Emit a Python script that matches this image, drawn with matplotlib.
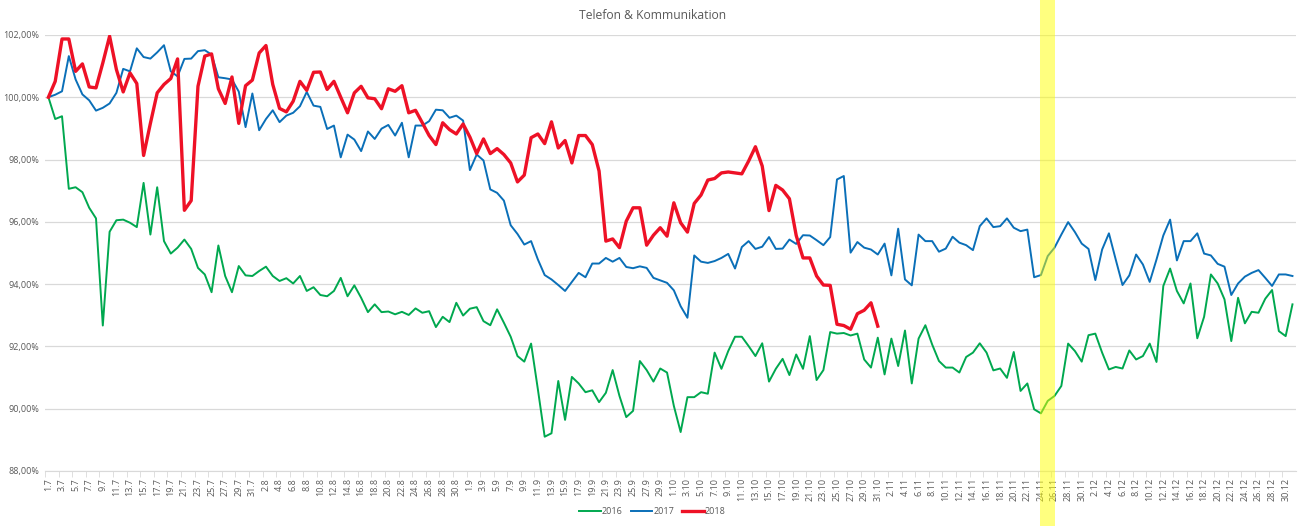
import pandas as pd
from matplotlib import pyplot as plt

# Kategorien: 1.7 bis 31.12
dates = pd.date_range('2018-07-01', '2018-12-31', freq='D')
labels = [f'{d.day}.{d.month}' for d in dates]

v2016 = [100.00, 99.30, 99.39, 97.06, 97.11, 96.95, 96.45, 96.11, 92.67, 95.68,
         96.05, 96.07, 95.97, 95.83, 97.25, 95.59, 97.11, 95.38, 94.98, 95.17,
         95.43, 95.13, 94.52, 94.31, 93.74, 95.24, 94.26, 93.74, 94.58, 94.28,
         94.26, 94.42, 94.56, 94.26, 94.10, 94.19, 94.02, 94.26, 93.78, 93.90,
         93.65, 93.61, 93.78, 94.20, 93.61, 93.96, 93.56, 93.10, 93.35, 93.10,
         93.12, 93.03, 93.11, 93.01, 93.22, 93.08, 93.13, 92.62, 92.95, 92.78,
         93.40, 92.99, 93.21, 93.26, 92.81, 92.68, 93.19, 92.76, 92.31, 91.69,
         91.51, 92.09, 90.62, 89.10, 89.21, 90.89, 89.64, 91.02, 90.81, 90.53,
         90.59, 90.21, 90.51, 91.24, 90.41, 89.73, 89.93, 91.53, 91.24, 90.87,
         91.29, 91.16, 90.09, 89.25, 90.37, 90.37, 90.53, 90.48, 91.80, 91.28,
         91.85, 92.31, 92.31, 92.01, 91.69, 92.10, 90.87, 91.28, 91.60, 91.08,
         91.74, 91.28, 92.33, 90.92, 91.24, 92.46, 92.41, 92.43, 92.35, 92.41,
         91.58, 91.32, 92.28, 91.10, 92.25, 91.37, 92.51, 90.81, 92.25, 92.68,
         92.06, 91.53, 91.32, 91.32, 91.16, 91.66, 91.80, 92.10, 91.80, 91.23,
         91.29, 90.99, 91.82, 90.57, 90.81, 89.98, 89.85, 90.25, 90.41, 90.73,
         92.09, 91.85, 91.51, 92.36, 92.41, 91.80, 91.26, 91.34, 91.29, 91.87,
         91.58, 91.69, 92.09, 91.50, 93.94, 94.50, 93.78, 93.38, 94.02, 92.26,
         92.95, 94.31, 94.02, 93.51, 92.17, 93.56, 92.74, 93.11, 93.08, 93.53,
         93.81, 92.49, 92.33, 93.35]

v2017 = [100.00, 100.08, 100.19, 101.32, 100.57, 100.09, 99.90, 99.57, 99.66, 99.80,
         100.14, 100.91, 100.83, 101.57, 101.29, 101.24, 101.44, 101.67, 100.83, 100.67,
         101.23, 101.24, 101.48, 101.51, 101.37, 100.64, 100.61, 100.57, 100.18, 99.04,
         100.12, 98.94, 99.30, 99.58, 99.20, 99.41, 99.50, 99.71, 100.17, 99.73,
         99.69, 98.98, 99.09, 98.07, 98.80, 98.64, 98.27, 98.90, 98.66, 98.99,
         99.11, 98.77, 99.18, 98.07, 99.09, 99.09, 99.23, 99.60, 99.58, 99.34,
         99.41, 99.25, 97.66, 98.16, 97.97, 97.04, 96.93, 96.68, 95.89, 95.61,
         95.27, 95.38, 94.79, 94.29, 94.15, 93.97, 93.78, 94.07, 94.36, 94.22,
         94.66, 94.66, 94.84, 94.72, 94.84, 94.55, 94.51, 94.57, 94.52, 94.20,
         94.12, 94.04, 93.80, 93.29, 92.92, 94.92, 94.72, 94.68, 94.74, 94.84,
         94.97, 94.50, 95.19, 95.38, 95.13, 95.20, 95.51, 95.13, 95.14, 95.43,
         95.29, 95.57, 95.56, 95.41, 95.25, 95.51, 97.36, 97.47, 95.01, 95.35,
         95.17, 95.11, 94.95, 95.30, 94.28, 95.78, 94.15, 93.96, 95.59, 95.38,
         95.38, 95.04, 95.14, 95.52, 95.33, 95.25, 95.09, 95.86, 96.11, 95.83,
         95.86, 96.11, 95.81, 95.70, 95.75, 94.22, 94.29, 94.90, 95.17, 95.59,
         95.99, 95.67, 95.30, 95.13, 94.13, 95.11, 95.63, 94.79, 93.97, 94.28,
         94.95, 94.63, 94.07, 94.79, 95.56, 96.07, 94.76, 95.38, 95.38, 95.63,
         94.98, 94.92, 94.65, 94.56, 93.65, 94.02, 94.24, 94.36, 94.45, 94.20,
         93.94, 94.31, 94.31, 94.26]

v2018 = [100.00, 100.51, 101.87, 101.87, 100.83, 101.07, 100.33, 100.30, 101.10, 101.96,
         100.89, 100.17, 100.78, 100.44, 98.13, 99.16, 100.14, 100.41, 100.60, 101.23,
         96.37, 96.68, 100.35, 101.32, 101.39, 100.27, 99.80, 100.65, 99.16, 100.37,
         100.55, 101.42, 101.66, 100.41, 99.64, 99.53, 99.87, 100.51, 100.22, 100.80,
         100.81, 100.25, 100.51, 100.00, 99.50, 100.14, 100.35, 99.98, 99.95, 99.63,
         100.27, 100.19, 100.37, 99.50, 99.58, 99.18, 98.77, 98.48, 99.18, 98.96,
         98.82, 99.14, 98.72, 98.19, 98.66, 98.19, 98.35, 98.16, 97.89, 97.28,
         97.50, 98.70, 98.82, 98.51, 99.21, 98.37, 98.61, 97.89, 98.77, 98.77,
         98.48, 97.63, 95.38, 95.45, 95.17, 96.02, 96.45, 96.45, 95.25, 95.57,
         95.81, 95.54, 96.61, 95.97, 95.67, 96.59, 96.86, 97.34, 97.39, 97.57,
         97.60, 97.57, 97.54, 97.95, 98.41, 97.79, 96.36, 97.17, 97.02, 96.74,
         95.56, 94.84, 94.84, 94.26, 93.97, 93.96, 92.71, 92.67, 92.55, 93.05,
         93.16, 93.40, 92.65]

highlight = ('24.11', '26.11')

fig = plt.figure(figsize=(13.05, 5.26), dpi=100)
ax = fig.add_axes([0.0345, 0.1046, 0.9585, 0.829])

x = list(range(len(labels)))
ax.plot(x, v2016, color='#00A84F', lw=1.4, label='2016', zorder=3)
ax.plot(x, v2017, color='#0A6FB8', lw=1.4, label='2017', zorder=3)
ax.plot(x[:len(v2018)], v2018, color='#EE1126', lw=2.4, label='2018', zorder=4)

# gelber Balken
i0 = labels.index(highlight[0])
i1 = labels.index(highlight[1])
ax.axvspan(i0 - 0.2, i1 + 0.1, ymin=-0.13, ymax=1.09, color='#FFFF00',
           alpha=0.5, lw=0, clip_on=False, zorder=5)

ax.set_ylim(88, 102)
ax.set_xlim(-0.45, len(labels) - 0.5)
ax.set_yticks(range(88, 103, 2))
ax.set_yticklabels([f'{v},00%' for v in range(88, 103, 2)])
ax.set_xticks(x[::2])
ax.set_xticklabels(labels[::2], rotation=90)
ax.set_xticks([k - 0.5 for k in x[::2]], minor=True)
ax.tick_params(axis='x', which='major', length=0, pad=5, labelsize=6.5, labelcolor='#595959')
ax.tick_params(axis='x', which='minor', length=4, color='#D9D9D9')
ax.tick_params(axis='y', length=0, labelsize=6.5, labelcolor='#595959', pad=4)

ax.grid(axis='y', color='#D9D9D9', lw=0.9)
ax.set_axisbelow(True)
for s in ['top', 'right', 'left']:
    ax.spines[s].set_visible(False)
ax.spines['bottom'].set_color('#D9D9D9')

for t in ax.get_xticklabels() + ax.get_yticklabels():
    t.set_fontfamily('Open Sans')

fig.text(0.5, 0.971, 'Telefon & Kommunikation', ha='center', va='center',
         fontsize=8.7, color='#595959', family='Open Sans')
fig.legend(loc='center', bbox_to_anchor=(0.5, 0.027), ncol=3, frameon=False,
           handlelength=2.4, handletextpad=0.1, columnspacing=0.9,
           labelcolor='#595959', prop={'family': 'Open Sans', 'size': 6.5})

plt.savefig('out.png', dpi=100)
